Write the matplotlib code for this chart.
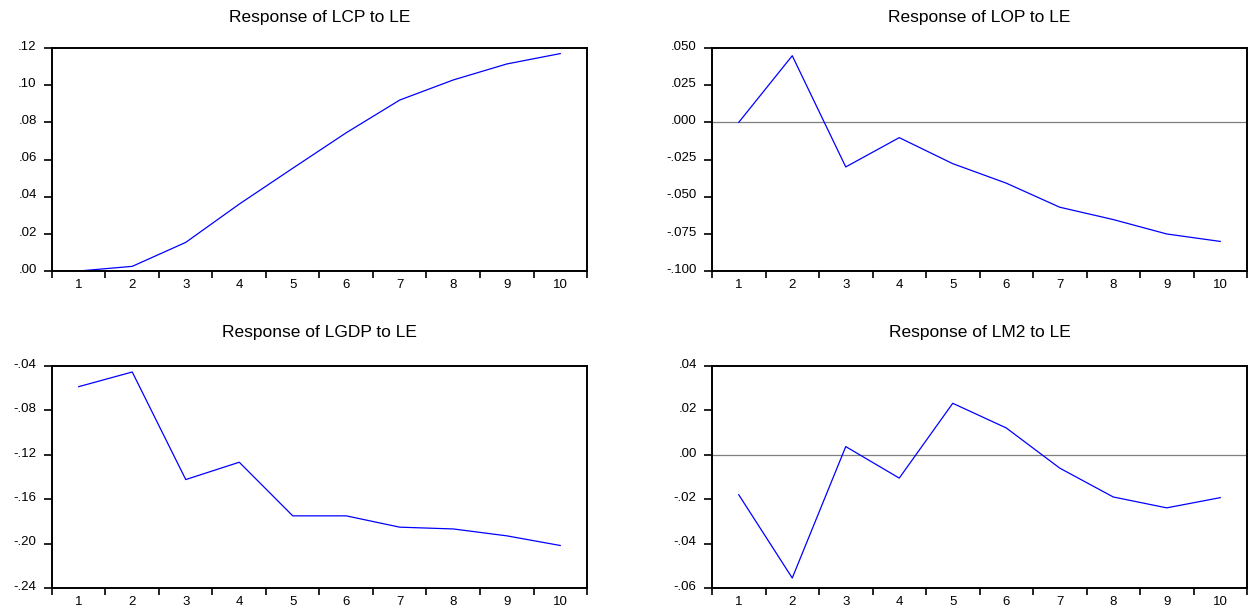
import matplotlib
matplotlib.use("Agg")
import matplotlib.pyplot as plt
import matplotlib.transforms as mtransforms
from matplotlib.ticker import FuncFormatter, FixedLocator

plt.rcParams['font.family'] = ['Liberation Sans', 'DejaVu Sans']

periods = [1, 2, 3, 4, 5, 6, 7, 8, 9, 10]

lcp = [0.0000, 0.0025, 0.0154, 0.0360, 0.0553, 0.0744, 0.0920, 0.1028, 0.1114, 0.1170]
lop = [0.0000, 0.0448, -0.0300, -0.0103, -0.0278, -0.0409, -0.0571, -0.0654, -0.0751, -0.0801]
lgdp = [-0.0586, -0.0454, -0.1423, -0.1267, -0.1750, -0.1750, -0.1852, -0.1868, -0.1930, -0.2017]
lm2 = [-0.0180, -0.0555, 0.0037, -0.0105, 0.0232, 0.0121, -0.0060, -0.0190, -0.0239, -0.0193]

titles = ["Response of LCP to LE", "Response of LOP to LE",
          "Response of LGDP to LE", "Response of LM2 to LE"]
yticks = [
    [0.00, 0.02, 0.04, 0.06, 0.08, 0.10, 0.12],
    [-0.100, -0.075, -0.050, -0.025, 0.000, 0.025, 0.050],
    [-0.24, -0.20, -0.16, -0.12, -0.08, -0.04],
    [-0.06, -0.04, -0.02, 0.00, 0.02, 0.04],
]
decimals = [2, 3, 2, 2]
zero_line = [False, True, False, True]


def eviews_fmt(nd):
    # EViews style labels: drop the leading zero (.12, -.04)
    def f(v, pos):
        s = f"{v:.{nd}f}"
        if s.startswith("-0"):
            s = "-" + s[2:]
        elif s.startswith("0"):
            s = s[1:]
        return s
    return f


fig = plt.figure(figsize=(12.49, 6.15), dpi=100)

# axes rectangles in figure fractions (left, bottom, width, height)
rects = [
    (52 / 1249, (615 - 271) / 615, 535 / 1249, 223 / 615),
    (712 / 1249, (615 - 271) / 615, 535 / 1249, 223 / 615),
    (52 / 1249, (615 - 588) / 615, 535 / 1249, 222 / 615),
    (712 / 1249, (615 - 588) / 615, 535 / 1249, 222 / 615),
]
pads = [19, 19, 21, 21]
series = [lcp, lop, lgdp, lm2]

for i in range(4):
    ax = fig.add_axes(rects[i])
    if zero_line[i]:
        ax.axhline(0, color="#7f7f7f", lw=0.9, zorder=1)
    ax.plot(periods, series[i], color="#0000ff", lw=0.9, zorder=2)

    ax.set_xlim(0.5, 10.5)
    ax.set_ylim(yticks[i][0], yticks[i][-1])

    # ticks at category boundaries, labels at centers
    ax.xaxis.set_major_locator(FixedLocator([k + 0.5 for k in range(0, 11)]))
    ax.xaxis.set_minor_locator(FixedLocator(periods))
    ax.xaxis.set_major_formatter(FuncFormatter(lambda v, p: ""))
    ax.xaxis.set_minor_formatter(FuncFormatter(lambda v, p: str(int(round(v)))))
    ax.tick_params(axis="x", which="major", direction="out", length=5, width=1.2, color="black")
    ax.tick_params(axis="x", which="minor", length=0, pad=6, labelsize=9.5)

    ax.set_yticks(yticks[i])
    ax.yaxis.set_major_formatter(FuncFormatter(eviews_fmt(decimals[i])))
    ax.tick_params(axis="y", direction="out", length=6, width=1.2, pad=5, labelsize=9.5)
    offset = mtransforms.ScaledTranslation(0, 2 / 72, fig.dpi_scale_trans)
    for lab in ax.get_yticklabels():
        lab.set_transform(lab.get_transform() + offset)

    for sp in ax.spines.values():
        sp.set_linewidth(1.4)
        sp.set_color("black")

    ax.set_title(titles[i], fontsize=12.5, pad=pads[i])

fig.savefig("out.png", dpi=100)
